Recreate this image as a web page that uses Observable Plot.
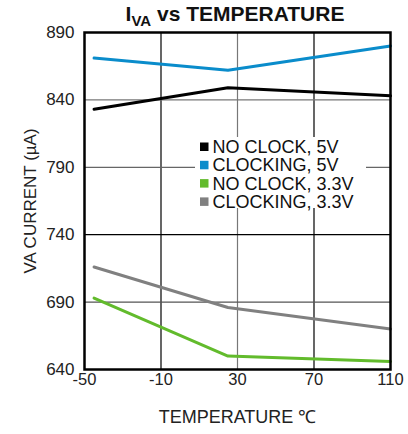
<!DOCTYPE html>
<html><head><meta charset="utf-8">
<script src="https://cdn.jsdelivr.net/npm/d3@7"></script>
<script src="https://cdn.jsdelivr.net/npm/@observablehq/plot@0.6"></script>
<style>
body{margin:0;background:#fff;}
#chart svg{font-family:"Liberation Sans",Arial,sans-serif;}
</style></head><body><div id="chart"></div>
<script>
const temps = [-45, 25, 110];
const seriesNames = ["NO CLOCK, 5V", "CLOCKING, 5V", "NO CLOCK, 3.3V", "CLOCKING, 3.3V"];
const seriesColors = ["#000000", "#0a8ccb", "#62bb2c", "#808080"];
const noClock5 = [833, 849, 843];
const clocking5 = [871, 862, 880];
const noClock33 = [693, 650, 646];
const clocking33 = [716, 686, 670];
const xTicks = [-50, -10, 30, 70, 110];
const yTicks = [640, 690, 740, 790, 840, 890];
const xGrid = [-10, 30, 70];
const xGridColors = ["#000", "#777", "#000"];
const yGrid = [690, 740, 790, 840];
const yGridColors = ["#555", "#000", "#666", "#777"];

const allSeries = [noClock5, clocking5, noClock33, clocking33];
const rows = [];
allSeries.forEach((vals, s) => vals.forEach((v, i) => rows.push({series: seriesNames[s], t: temps[i], v})));

const plot = Plot.plot({
  width: 408, height: 434,
  marginLeft: 84, marginRight: 18, marginTop: 32, marginBottom: 65,
  style: {fontFamily: "Liberation Sans, Arial, sans-serif", fontSize: "16px", color: "#222"},
  x: {domain: [-50, 110]},
  y: {domain: [640, 890]},
  color: {domain: seriesNames, range: seriesColors},
  marks: [
    Plot.ruleX(xGrid.map((t, i) => ({t, c: xGridColors[i]})), {x: "t", stroke: "c", strokeWidth: 1.2}),
    Plot.ruleY(yGrid.map((v, i) => ({v, c: yGridColors[i]})), {y: "v", stroke: "c", strokeWidth: 1.2}),
    Plot.line(rows, {x: "t", y: "v", z: "series", stroke: "series", strokeWidth: 3}),
    Plot.axisX({ticks: xTicks, tickFormat: d => String(d), tickSize: 0, tickPadding: 4, fontSize: 16.5, label: null}),
    Plot.axisX({ticks: [], tickSize: 0, fontSize: 18, label: "TEMPERATURE ℃", labelAnchor: "center", labelArrow: "none", labelOffset: 53}),
    Plot.axisY({ticks: yTicks, tickFormat: d => String(d), tickSize: 0, tickPadding: 10, fontSize: 17, label: null}),
    Plot.axisY({ticks: [], tickSize: 0, fontSize: 17, label: "VA CURRENT (µA)", labelAnchor: "center", labelArrow: "none", labelOffset: 61}),
    Plot.frame({stroke: "#000", strokeWidth: 2.5})
  ]
});
document.getElementById("chart").appendChild(plot);

const svg = d3.select(plot);
// title
const title = svg.append("text").attr("x", 235).attr("y", 21).attr("text-anchor", "middle")
  .attr("font-size", 21).attr("font-weight", "bold").attr("fill", "#111");
title.append("tspan").text("I");
title.append("tspan").attr("font-size", 15).attr("dy", 5).text("VA");
title.append("tspan").attr("dy", -5).text(" vs TEMPERATURE");

// legend
const lg = svg.append("g").attr("transform", "translate(195,137)");
lg.append("rect").attr("width", 171).attr("height", 71).attr("fill", "#fff");
seriesNames.forEach((n, i) => {
  const g = lg.append("g").attr("transform", `translate(5,${9.5 + i * 18.3})`);
  g.append("rect").attr("x", 0).attr("y", -4).attr("width", 8.5).attr("height", 8.5).attr("fill", seriesColors[i]);
  g.append("text").attr("x", 12.5).attr("y", 0).attr("dy", "0.36em").attr("text-anchor", "start")
    .attr("font-size", 18).attr("fill", "#111").text(n);
});
</script></body></html>
